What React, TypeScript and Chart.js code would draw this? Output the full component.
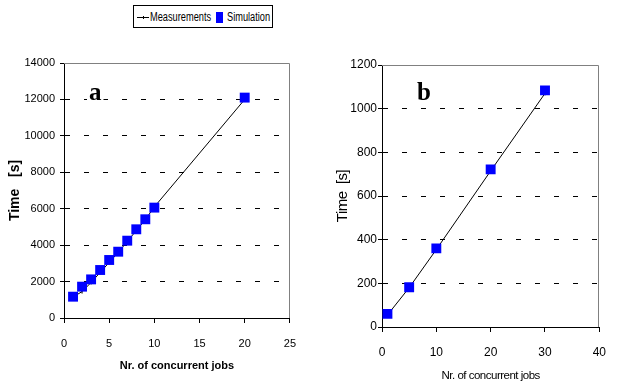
import React, { useEffect, useRef } from 'react';
import { Chart, registerables } from 'chart.js';

Chart.register(...registerables);

// ---------- data ----------
const seriesLabels = ['Measurements', 'Simulation'];

const jobsA = [1, 2, 3, 4, 5, 6, 7, 8, 9, 10, 20];
const measuredA = [1150, 1450, 1950, 2500, 3050, 3600, 4200, 4800, 5400, 6100, 12000];
const simulatedA = [1170, 1720, 2120, 2635, 3185, 3640, 4245, 4870, 5420, 6060, 12100];
const xTicksA = [0, 5, 10, 15, 20, 25];
const yTicksA = [0, 2000, 4000, 6000, 8000, 10000, 12000, 14000];

const jobsB = [1, 5, 10, 20, 30];
const measuredB = [55, 180, 355, 715, 1070];
const simulatedB = [60, 182, 360, 722, 1084];
const xTicksB = [0, 10, 20, 30, 40];
const yTicksB = [0, 200, 400, 600, 800, 1000, 1200];

const xTitle = 'Nr. of concurrent jobs';
const yTitleA = 'Time   [s]';
const yTitleB = 'Time  [s]';

// ---------- styles ----------
const SANS = "'Liberation Sans', Arial, sans-serif";
const SERIF = "'Liberation Serif', 'Times New Roman', serif";
const BLUE = '#0000ff';

const framePlugin = {
  id: 'frame',
  afterDraw(chart: any) {
    const { ctx, chartArea: a } = chart;
    ctx.save();
    ctx.strokeStyle = '#808080';
    ctx.lineWidth = 1;
    ctx.beginPath();
    ctx.moveTo(Math.round(a.left), Math.round(a.top) + 0.5);
    ctx.lineTo(Math.round(a.right) - 0.5, Math.round(a.top) + 0.5);
    ctx.lineTo(Math.round(a.right) - 0.5, Math.round(a.bottom));
    ctx.stroke();
    ctx.restore();
  },
};

const letterPlugin = {
  id: 'panelLetter',
  afterDraw(chart: any, _args: any, opts: any) {
    const { ctx } = chart;
    ctx.save();
    ctx.letterSpacing = '0px';
    ctx.font = `bold ${opts.size}px ${SERIF}`;
    ctx.textAlign = 'left';
    ctx.textBaseline = 'alphabetic';
    const w = ctx.measureText(opts.text).width;
    ctx.fillStyle = '#fff';
    ctx.fillRect(opts.x - 2, opts.y - opts.size * 0.72, w + 4, opts.size * 0.74);
    ctx.fillStyle = '#000';
    ctx.fillText(opts.text, opts.x, opts.y);
    ctx.restore();
  },
};

// condensed look for axis titles (titles are drawn in the grid layer, before datasets;
// tick labels are moved to a layer after the datasets)
const titleSpacingPlugin = {
  id: 'titleSpacing',
  beforeDraw(chart: any, _args: any, opts: any) {
    chart.ctx.letterSpacing = `${opts.spacing || 0}px`;
  },
  beforeDatasetsDraw(chart: any) {
    chart.ctx.letterSpacing = '0px';
  },
};

type PanelOpts = {
  jobs: number[];
  measured: number[];
  simulated: number[];
  xTicks: number[];
  yTicks: number[];
  yTitle: string;
  letter: string;
  letterX: number;
  letterY: number;
  yAxisWidth: number;
  xAxisHeight: number;
  padTop: number;
  padRight: number;
  tickFont: number;
  yTickPad: number;
  xTickPad: number;
  xTitleFont: any;
  yTitleFont: any;
  xTitlePadBottom: number;
  yTitlePadTop: number;
  titleSpacing: number;
};

function buildConfig(p: PanelOpts): any {
  return {
    type: 'scatter',
    data: {
      datasets: [
        {
          label: seriesLabels[1],
          data: p.jobs.map((x, i) => ({ x, y: p.simulated[i] })),
          pointStyle: 'rect',
          pointRadius: 7,
          pointHoverRadius: 7,
          backgroundColor: BLUE,
          borderColor: BLUE,
          borderWidth: 0,
          showLine: false,
          order: 0,
        },
        {
          label: seriesLabels[0],
          data: p.jobs.map((x, i) => ({ x, y: p.measured[i] })),
          showLine: true,
          borderColor: '#000',
          borderWidth: 1,
          backgroundColor: '#000',
          pointStyle: 'line',
          rotation: 90,
          pointRadius: 2,
          pointBorderWidth: 1,
          pointBorderColor: '#000',
          tension: 0,
          order: 1,
        },
      ],
    },
    options: {
      responsive: false,
      animation: false,
      events: [],
      layout: { padding: { top: p.padTop, right: p.padRight, left: 0, bottom: 0 } },
      plugins: {
        legend: { display: false },
        tooltip: { enabled: false },
        panelLetter: { text: p.letter, x: p.letterX, y: p.letterY, size: 25 },
        titleSpacing: { spacing: p.titleSpacing },
      },
      scales: {
        x: {
          type: 'linear',
          min: p.xTicks[0],
          max: p.xTicks[p.xTicks.length - 1],
          afterBuildTicks: (s: any) => {
            s.ticks = p.xTicks.map((value) => ({ value }));
          },
          afterFit: (s: any) => {
            s.height = p.xAxisHeight;
          },
          grid: {
            display: true,
            drawOnChartArea: false,
            drawTicks: true,
            tickLength: 5,
            tickColor: '#000',
            color: '#000',
          },
          border: { display: true, color: '#000', width: 1 },
          ticks: {
            z: 1,
            color: '#000',
            font: { family: SANS, size: p.tickFont },
            padding: p.xTickPad,
            maxRotation: 0,
            autoSkip: false,
            callback: (v: any) => String(v),
          },
          title: {
            display: true,
            text: xTitle,
            color: '#000',
            font: p.xTitleFont,
            padding: { top: 0, bottom: p.xTitlePadBottom },
          },
        },
        y: {
          type: 'linear',
          min: p.yTicks[0],
          max: p.yTicks[p.yTicks.length - 1],
          afterBuildTicks: (s: any) => {
            s.ticks = p.yTicks.map((value) => ({ value }));
          },
          afterFit: (s: any) => {
            s.width = p.yAxisWidth;
          },
          grid: {
            display: true,
            drawOnChartArea: true,
            drawTicks: true,
            color: '#000',
            lineWidth: 1,
            tickLength: 4,
            tickColor: '#000',
            tickBorderDash: [],
          },
          border: { display: true, color: '#000', width: 1, dash: [5, 14] },
          ticks: {
            z: 1,
            color: '#000',
            font: { family: SANS, size: p.tickFont },
            padding: p.yTickPad,
            autoSkip: false,
            callback: (v: any) => String(v),
          },
          title: {
            display: true,
            text: p.yTitle,
            color: '#000',
            font: p.yTitleFont,
            padding: { top: p.yTitlePadTop, bottom: 0 },
          },
        },
      },
    },
    plugins: [titleSpacingPlugin, framePlugin, letterPlugin],
  };
}

function Panel({ left, top, width, height, opts }: any) {
  const ref = useRef<HTMLCanvasElement | null>(null);
  useEffect(() => {
    if (!ref.current) return;
    const chart = new Chart(ref.current, buildConfig(opts));
    return () => chart.destroy();
  }, []);
  return (
    <canvas
      ref={ref}
      width={width}
      height={height}
      style={{ position: 'absolute', left, top, width, height }}
    />
  );
}

const panelA: PanelOpts = {
  jobs: jobsA,
  measured: measuredA,
  simulated: simulatedA,
  xTicks: xTicksA,
  yTicks: yTicksA,
  yTitle: yTitleA,
  letter: 'a',
  letterX: 89,
  letterY: 60,
  yAxisWidth: 64,
  xAxisHeight: 65,
  padTop: 23,
  padRight: 12,
  tickFont: 11,
  yTickPad: 5,
  xTickPad: 14,
  xTitleFont: { family: SANS, size: 11, weight: 'bold' },
  yTitleFont: { family: SANS, size: 14, weight: 'bold' },
  xTitlePadBottom: 10,
  yTitlePadTop: 7,
  titleSpacing: 0,
};

const panelB: PanelOpts = {
  jobs: jobsB,
  measured: measuredB,
  simulated: simulatedB,
  xTicks: xTicksB,
  yTicks: yTicksB,
  yTitle: yTitleB,
  letter: 'b',
  letterX: 107,
  letterY: 60,
  yAxisWidth: 72,
  xAxisHeight: 56,
  padTop: 25,
  padRight: 7,
  tickFont: 12,
  yTickPad: 1,
  xTickPad: 13,
  xTitleFont: { family: SANS, size: 11.5 },
  yTitleFont: { family: SANS, size: 15 },
  xTitlePadBottom: 0,
  yTitlePadTop: 24,
  titleSpacing: -0.5,
};

const legendText: any = {
  position: 'absolute',
  top: 4,
  fontFamily: SANS,
  fontSize: 12,
  lineHeight: '14px',
  color: '#000',
  whiteSpace: 'nowrap',
  transform: 'scaleX(0.77)',
  transformOrigin: 'left center',
};

export default function App() {
  return (
    <div
      style={{
        position: 'absolute',
        left: 0,
        top: 0,
        width: 619,
        height: 383,
        background: '#fff',
        overflow: 'hidden',
      }}
    >
      <div
        style={{
          position: 'absolute',
          left: 133,
          top: 5,
          width: 140,
          height: 23,
          boxSizing: 'border-box',
          border: '1px solid #000',
        }}
      >
        <span
          style={{
            position: 'absolute',
            left: 3,
            top: 11,
            width: 12,
            height: 1,
            background: '#000',
          }}
        />
        <span
          style={{
            position: 'absolute',
            left: 9,
            top: 10,
            width: 1,
            height: 3,
            background: '#000',
          }}
        />
        <span style={{ ...legendText, left: 16 }}>{seriesLabels[0]}</span>
        <span
          style={{
            position: 'absolute',
            left: 82,
            top: 6,
            width: 7,
            height: 11,
            background: BLUE,
          }}
        />
        <span style={{ ...legendText, left: 93 }}>{seriesLabels[1]}</span>
      </div>
      <Panel left={0} top={40} width={310} height={343} opts={panelA} />
      <Panel left={310} top={40} width={309} height={343} opts={panelB} />
    </div>
  );
}
